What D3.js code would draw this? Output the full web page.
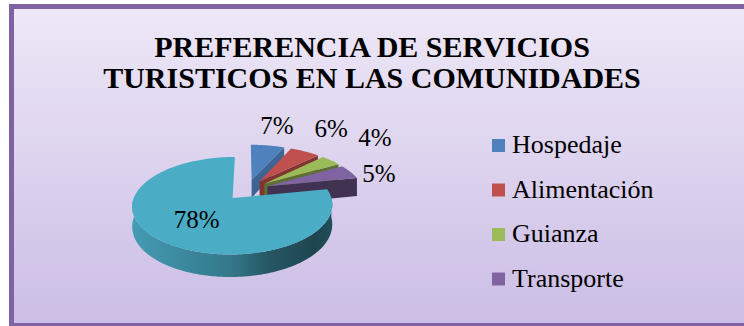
<!DOCTYPE html>
<html>
<head>
<meta charset="utf-8">
<script src="https://cdn.jsdelivr.net/npm/d3@7"></script>
<style>
  html, body { margin: 0; padding: 0; background: #ffffff; }
  svg { display: block; }
  svg text { font-family: "Liberation Serif"; }
</style>
</head>
<body>
<svg id="chart" width="744" height="326"></svg>
<script>
// ---- data ----
const titleLines = ["PREFERENCIA DE SERVICIOS", "TURISTICOS EN LAS COMUNIDADES"];
const categories = ["Hospedaje", "Alimentación", "Guianza", "Transporte", ""];
const shares = [7, 6, 4, 5, 78];
const shareLabels = ["7%", "6%", "4%", "5%", "78%"];
const sliceColors = ["#4F81BD", "#C0504D", "#9BBB59", "#8064A2", "#4BACC6"];

// ---- layout ----
const textFont = "Liberation Serif";
const geo = { ox: 247, oy: 189.7, R: 96, E: 22, depth: 21.5, sinA: 0.48, cosA: 0.877, L: 579 };
const labelNudge = [[0, 0], [8, -11], [23, -16], [7, 5], [0, 0]];

const svg = d3.select("#chart");
const defs = svg.append("defs");

// chart area background
const bg = defs.append("linearGradient").attr("id", "bgGrad")
  .attr("x1", 0).attr("y1", 0).attr("x2", 0).attr("y2", 1);
bg.append("stop").attr("offset", 0).attr("stop-color", "#EEE8F7");
bg.append("stop").attr("offset", 1).attr("stop-color", "#CBBDE5");
svg.append("rect")
  .attr("x", 11.5).attr("y", 6.5).attr("width", 740).attr("height", 319)
  .attr("fill", "url(#bgGrad)")
  .attr("stroke", "#7E62A1").attr("stroke-width", 5);

// title
svg.append("g").selectAll("text").data(titleLines).join("text")
  .attr("x", 372).attr("y", (d, i) => 57 + i * 31)
  .attr("text-anchor", "middle")
  .style("font-family", textFont).style("font-weight", "bold").style("font-size", "30px")
  .attr("fill", "#000").text(d => d);

// ---- 3D exploded pie ----
const slices = d3.pie().sort(null).value(d => d)(shares);

// perspective projection of a point on the pie plane (X right, Z toward viewer, h downward)
function proj(X, Z, h) {
  const s = 1 + Z / geo.L;
  return [geo.ox + X * s, geo.oy + (Z * geo.sinA + h * geo.cosA) * s];
}
function pt(sl, theta, r, h) {
  const m = (sl.startAngle + sl.endAngle) / 2;
  const ex = geo.E * Math.sin(m), ez = -geo.E * Math.cos(m);
  return proj(ex + r * Math.sin(theta), ez - r * Math.cos(theta), h);
}
function arcPts(sl, a0, a1, h) {
  const n = Math.max(2, Math.ceil((a1 - a0) / (Math.PI / 180)));
  return d3.range(n + 1).map(i => pt(sl, a0 + (a1 - a0) * i / n, geo.R, h));
}
const poly = pts => d3.line()(pts) + "Z";
const shadeOf = (c, t) => d3.interpolateRgb(c, "#000")(t);
const wallShade = d3.scaleLinear().domain([90, 130, 160, 180, 220, 270]).range([0.5, 0.6, 0.5, 0.3, 0.15, 0.05]);

const pieG = svg.append("g");
slices.forEach((sl, i) => {
  const g = pieG.append("g");
  const c = sliceColors[i];
  const d = geo.depth;
  const apexT = pt(sl, 0, 0, 0), apexB = pt(sl, 0, 0, d);

  // radial cut faces
  if (Math.sin(sl.endAngle) > 0.01) {
    const t = 0.1 + 0.45 * (sl.endAngle * 180 / Math.PI) / 90;
    g.append("path").attr("d", poly([apexT, pt(sl, sl.endAngle, geo.R, 0), pt(sl, sl.endAngle, geo.R, d), apexB]))
      .attr("fill", shadeOf(c, t));
  }
  if (Math.sin(sl.startAngle) < -0.01) {
    const t = 0.1 + 0.45 * Math.abs(360 - sl.startAngle * 180 / Math.PI) / 90;
    g.append("path").attr("d", poly([apexT, pt(sl, sl.startAngle, geo.R, 0), pt(sl, sl.startAngle, geo.R, d), apexB]))
      .attr("fill", shadeOf(c, t));
  }

  // curved outer wall (front half only)
  const a0 = Math.max(sl.startAngle, Math.PI / 2), a1 = Math.min(sl.endAngle, 3 * Math.PI / 2);
  if (a1 > a0) {
    const gid = "wall" + i;
    const degs = d3.range(270, 89, -5);
    const xs = degs.map(deg => pt(sl, deg * Math.PI / 180, geo.R, 0)[0]);
    const xMin = d3.min(xs), xMax = d3.max(xs);
    const grad = defs.append("linearGradient").attr("id", gid)
      .attr("gradientUnits", "userSpaceOnUse")
      .attr("x1", xMin).attr("y1", 0).attr("x2", xMax).attr("y2", 0);
    degs.forEach((deg, k) => {
      grad.append("stop").attr("offset", (xs[k] - xMin) / (xMax - xMin))
        .attr("stop-color", shadeOf(c, wallShade(deg)));
    });
    const top = arcPts(sl, a0, a1, 0), bot = arcPts(sl, a0, a1, d).reverse();
    g.append("path").attr("d", poly(top.concat(bot))).attr("fill", `url(#${gid})`);
  }

  // top face
  g.append("path").attr("d", poly([apexT].concat(arcPts(sl, sl.startAngle, sl.endAngle, 0))))
    .attr("fill", c);
});

// data labels
const labelG = svg.append("g");
slices.forEach((sl, i) => {
  const mid = (sl.startAngle + sl.endAngle) / 2;
  let x, y;
  if (sl.value > 50) {
    [x, y] = pt(sl, mid, geo.R * 0.52, 0);
  } else {
    const o = pt(sl, mid, geo.R, 0);
    const dx = o[0] - geo.ox, dy = o[1] - geo.oy, len = Math.hypot(dx, dy);
    x = o[0] + dx / len * 22 + labelNudge[i][0];
    y = o[1] + dy / len * 22 + labelNudge[i][1];
  }
  labelG.append("text")
    .attr("x", x).attr("y", y).attr("dy", "0.35em")
    .attr("text-anchor", "middle")
    .style("font-family", textFont).style("font-size", "25px").attr("fill", "#000")
    .text(shareLabels[i]);
});

// legend
const legendItems = categories.map((name, i) => ({ name, color: sliceColors[i] })).filter(d => d.name);
const legend = svg.append("g").attr("transform", "translate(492,0)");
const rowY = d3.scalePoint().domain(legendItems.map(d => d.name)).range([153, 286.5]);
legendItems.forEach(d => {
  const y = rowY(d.name);
  legend.append("rect").attr("x", 0).attr("y", y - 14).attr("width", 13).attr("height", 13).attr("fill", d.color);
  legend.append("text").attr("x", 20).attr("y", y)
    .style("font-family", textFont).style("font-size", "26px").attr("fill", "#000").text(d.name);
});
</script>
</body>
</html>
